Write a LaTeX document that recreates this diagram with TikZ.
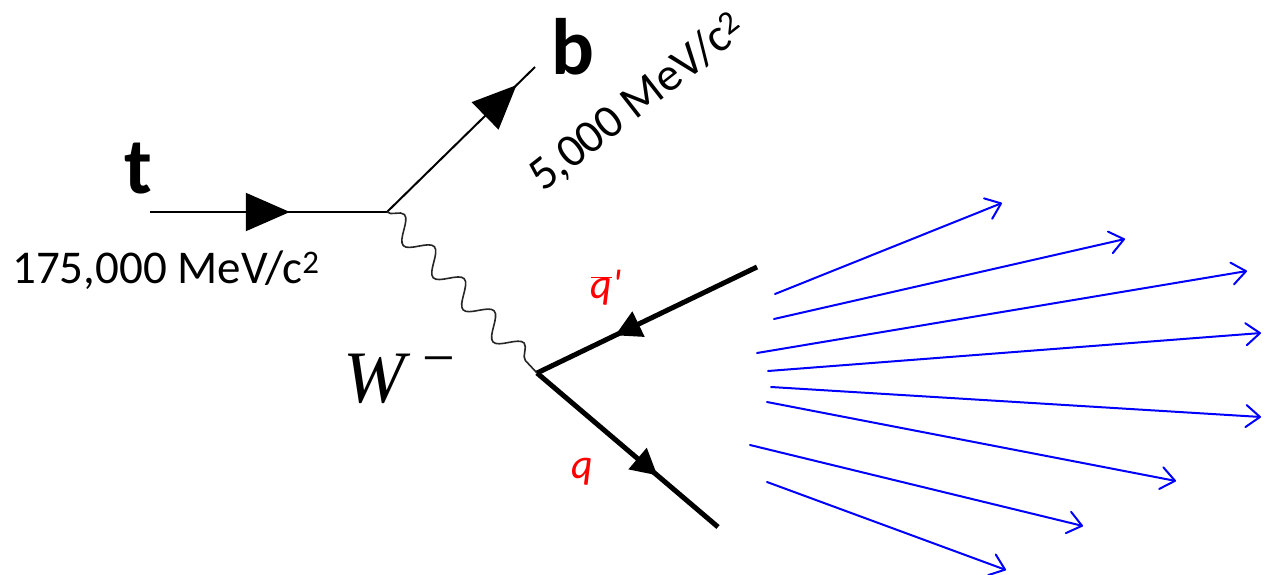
\documentclass[tikz,border=0pt]{standalone}
\usepackage{fontspec}
\setmainfont{Carlito}
\newfontfamily\plainfont{Carlito}[Ligatures=ResetAll]
\newfontfamily\wfont{Liberation Serif}
\usetikzlibrary{arrows.meta,decorations.markings,decorations.pathmorphing}
\begin{document}
\begin{tikzpicture}[x=1pt,y=-1pt,
  tline/.style={line width=2pt, black},
  qline/.style={line width=5pt, black},
  jet/.style={line width=2pt, blue, line cap=round,
    -{Straight Barb[length=14pt,width=22pt,line join=round,line cap=round]}},
  boson/.style={line width=1.6pt, black!85, decorate,
    decoration={snake, segment length=43.9pt, amplitude=11pt}},
  bigtip/.style={postaction={decorate, decoration={markings,
    mark=at position #1 with {\arrow{Triangle[length=44pt,width=38pt]}}}}},
  smalltip/.style={postaction={decorate, decoration={markings,
    mark=at position #1 with {\arrow{Triangle[length=26pt,width=27pt]}}}}},
  masslabel/.style={font=\fontsize{47pt}{50pt}\selectfont, inner sep=0pt},
  quarklabel/.style={font=\fontsize{80pt}{84pt}\selectfont\bfseries, inner sep=0pt, anchor=base},
  redlabel/.style={red, font=\plainfont\itshape\fontsize{42pt}{44pt}\selectfont, inner sep=0pt}
]
\fill[white] (0,0) rectangle (1268,575);
\useasboundingbox (0,0) rectangle (1268,575);

% vertices and line ends
\coordinate (tin) at (150,212);
\coordinate (v1) at (387,212);
\coordinate (bout) at (535,67);
\coordinate (v2) at (537,373);
\coordinate (qbarin) at (757,267);
\coordinate (qout) at (718,527);

% fermion lines
\draw[tline, bigtip=0.59] (tin) -- (v1);
\draw[tline, bigtip=0.875] (v1) -- (bout);
\draw[boson] (v1) -- (v2);
\draw[qline, smalltip=0.645] (qbarin) -- (v2);
\draw[qline, smalltip=0.665] (v2) -- (qout);

% labels
\node[quarklabel] (tlab) at (138,193) {t};
\node[quarklabel] (blab) at (573,75) {b};
\node[masslabel, anchor=base west] (tmass) at (12,283) {175,000 MeV/c\textsuperscript{2}};
\node[masslabel, anchor=base west, rotate=38] (bmass) at (543,193) {5,000 MeV/c\textsuperscript{2}};
\node[inner sep=0pt, anchor=base west, font=\wfont\fontsize{74pt}{80pt}\selectfont] (wlab) at (343,402)
  {\textit{W}\hspace{12pt}\raisebox{25pt}{\fontsize{58pt}{60pt}\selectfont −}};
\node[redlabel] (qbarlab) at (606,288) {$\overline{\hbox{q}}$'};
\node[redlabel] (qlab) at (582,472) {q};

% jets
\coordinate (s1) at (775,294); \coordinate (e1) at (1002,203);
\coordinate (s2) at (774,319); \coordinate (e2) at (1125,239);
\coordinate (s3) at (757,353); \coordinate (e3) at (1247,271);
\coordinate (s4) at (768,371); \coordinate (e4) at (1261,333);
\coordinate (s5) at (771,387); \coordinate (e5) at (1261,417);
\coordinate (s6) at (767,402); \coordinate (e6) at (1176,481);
\coordinate (s7) at (750,445); \coordinate (e7) at (1083,526);
\coordinate (s8) at (767,482); \coordinate (e8) at (1006,570);
\foreach \i in {1,...,8} { \draw[jet] (s\i) -- (e\i); }
\end{tikzpicture}
\end{document}
